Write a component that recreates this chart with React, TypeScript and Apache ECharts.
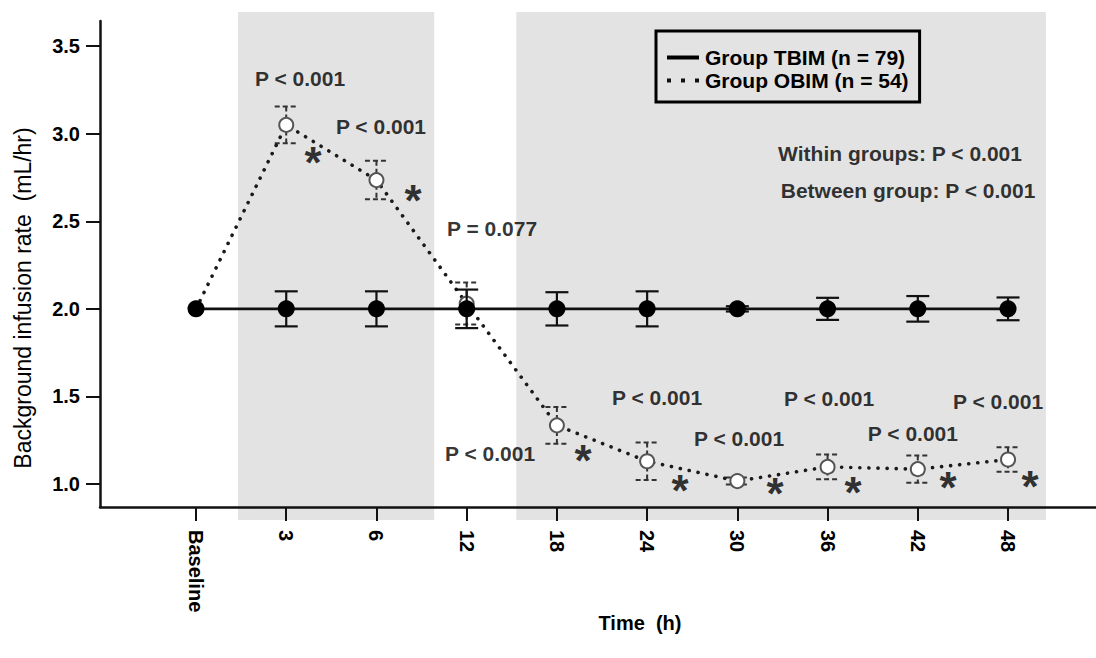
import React, { useEffect, useRef } from 'react';
import * as echarts from 'echarts';

const FONT = '"Liberation Sans", Arial, Helvetica, sans-serif';

// ---- data ----
const categories = ['Baseline', '3', '6', '12', '18', '24', '30', '36', '42', '48'];
const yTicks = [1.0, 1.5, 2.0, 2.5, 3.0, 3.5];

const tbimName = 'Group TBIM (n = 79)';
const obimName = 'Group OBIM (n = 54)';

const tbimMean = [2.0, 2.0, 2.0, 2.0, 2.0, 2.0, 2.0, 2.0, 2.0, 2.0];
const tbimErr = [0, 0.10, 0.10, 0.11, 0.095, 0.10, 0.015, 0.063, 0.073, 0.065];

const obimMean = [2.0, 3.05, 2.735, 2.03, 1.335, 1.13, 1.017, 1.098, 1.085, 1.14];
const obimErr = [0, 0.105, 0.11, 0.12, 0.105, 0.107, 0.02, 0.07, 0.078, 0.07];

// shaded periods, in category-index units
const bandStart = [0.466, 3.55];
const bandEnd = [2.64, 9.42];

// annotations (category-index units, value units)
const pTexts = ['P < 0.001', 'P < 0.001', 'P = 0.077', 'P < 0.001', 'P < 0.001', 'P < 0.001', 'P < 0.001', 'P < 0.001', 'P < 0.001', 'Within groups: P < 0.001', 'Between group: P < 0.001'];
const pX = [1.153, 2.05, 3.281, 3.259, 5.11, 6.019, 7.016, 7.946, 8.889, 7.803, 7.892];
const pY = [3.313, 3.039, 2.457, 1.172, 1.492, 1.258, 1.486, 1.287, 1.469, 2.885, 2.674];

const starX = [1.297, 2.405, 4.289, 5.365, 6.418, 7.282, 8.335, 9.244];
const starY = [2.856, 2.639, 1.155, 0.984, 0.967, 0.973, 1.001, 1.007];

export default function App() {
  const ref = useRef<HTMLDivElement>(null);

  useEffect(() => {
    const chart = echarts.init(ref.current!, null, { renderer: 'svg' });

    const errRender = (stroke: string, width: number, dash: number[] | null) =>
      (params: any, api: any) => {
        const x = api.value(0);
        const lo = api.value(1);
        const hi = api.value(2);
        const t = api.coord([x, hi]);
        const b = api.coord([x, lo]);
        const hw = 11.5;
        const style: any = { stroke, lineWidth: width, fill: 'none' };
        if (dash) style.lineDash = dash;
        return {
          type: 'group',
          children: [
            { type: 'line', shape: { x1: t[0], y1: t[1], x2: b[0], y2: b[1] }, style },
            { type: 'line', shape: { x1: t[0] - hw, y1: t[1], x2: t[0] + hw, y2: t[1] }, style },
            { type: 'line', shape: { x1: b[0] - hw, y1: b[1], x2: b[0] + hw, y2: b[1] }, style },
          ],
        };
      };

    const tbimErrData = categories
      .map((_, i) => [i, tbimMean[i] - tbimErr[i], tbimMean[i] + tbimErr[i]])
      .filter((_, i) => tbimErr[i] > 0);
    const obimErrData = categories
      .map((_, i) => [i, obimMean[i] - obimErr[i], obimMean[i] + obimErr[i]])
      .filter((_, i) => obimErr[i] > 0);

    const option: any = {
      animation: false,
      backgroundColor: '#ffffff',
      textStyle: { fontFamily: FONT },
      grid: { left: 100, right: 0, top: 21, bottom: 151, containLabel: false },
      xAxis: {
        type: 'value',
        min: -1.064,
        max: 9.975,
        z: 3,
        axisLine: { show: true, onZero: false, lineStyle: { color: '#111', width: 2.5 } },
        axisTick: {
          show: true,
          customValues: categories.map((_, i) => i),
          length: 14,
          lineStyle: { color: '#111', width: 2 },
        },
        axisLabel: {
          customValues: categories.map((_, i) => i),
          formatter: (v: number) => categories[Math.round(v)] ?? '',
          rotate: -90,
          margin: 23,
          fontFamily: FONT,
          fontSize: 20,
          fontWeight: 'bold',
          color: '#000',
        },
        splitLine: { show: false },
      },
      yAxis: {
        type: 'value',
        min: 0.869,
        max: 3.643,
        z: 3,
        axisLine: { show: true, onZero: false, lineStyle: { color: '#111', width: 2.5 } },
        axisTick: {
          show: true,
          customValues: yTicks,
          length: 14,
          lineStyle: { color: '#111', width: 2 },
        },
        axisLabel: {
          customValues: yTicks,
          formatter: (v: number) => v.toFixed(1),
          margin: 20,
          fontFamily: FONT,
          fontSize: 20,
          fontWeight: 'bold',
          color: '#000',
        },
        splitLine: { show: false },
      },
      legend: {
        orient: 'vertical',
        left: 656,
        top: 31,
        padding: [16, 11, 11, 11],
        itemGap: 2,
        itemWidth: 32,
        itemHeight: 4,
        borderColor: '#000',
        borderWidth: 3,
        backgroundColor: 'transparent',
        textStyle: { fontFamily: FONT, fontSize: 21, fontWeight: 'bold', color: '#000', padding: [0, 0, 0, 1] },
        data: [
          { name: tbimName, icon: 'path://M0,0h32v4h-32z', itemStyle: { color: '#000', borderWidth: 0 } },
          { name: obimName, icon: 'path://M0,0h4v4h-4z M14,0h4v4h-4z M28,0h4v4h-4z', itemStyle: { color: '#111', borderWidth: 0 } },
        ],
      },
      series: [
        {
          name: obimName + ' error',
          type: 'custom',
          z: 4,
          renderItem: errRender('#333', 2, [5, 3]),
          encode: { x: 0, y: [1, 2] },
          data: obimErrData,
          silent: true,
        },
        {
          name: obimName,
          type: 'line',
          z: 5,
          data: obimMean.map((v, i) => [i, v]),
          symbol: 'emptyCircle',
          symbolSize: 14,
          showSymbol: true,
          lineStyle: { color: '#1a1a1a', width: 3.6, type: [0.1, 9], cap: 'round' },
          itemStyle: { color: '#555', borderColor: '#444', borderWidth: 1.6 },
        },
        {
          name: tbimName + ' error',
          type: 'custom',
          z: 6,
          renderItem: errRender('#111', 2.2, null),
          encode: { x: 0, y: [1, 2] },
          data: tbimErrData,
          silent: true,
        },
        {
          name: tbimName,
          type: 'line',
          z: 7,
          data: tbimMean.map((v, i) => [i, v]),
          symbol: 'circle',
          symbolSize: 17,
          lineStyle: { color: '#111', width: 2.6 },
          itemStyle: { color: '#000' },
        },
        {
          name: 'p-values',
          type: 'scatter',
          z: 8,
          symbolSize: 0,
          silent: true,
          itemStyle: { color: '#000' },
          data: pTexts.map((t, i) => ({ value: [pX[i], pY[i]], name: t })),
          label: {
            show: true,
            position: 'inside',
            formatter: (p: any) => p.name,
            fontFamily: FONT,
            fontSize: 21,
            fontWeight: 'bold',
            color: '#000',
            textBorderWidth: 0,
            textBorderColor: 'transparent',
          },
        },
        {
          name: 'asterisks',
          type: 'scatter',
          z: 8,
          symbolSize: 0,
          silent: true,
          itemStyle: { color: '#000' },
          data: starX.map((x, i) => [x, starY[i]]),
          label: {
            show: true,
            position: 'inside',
            formatter: () => '*',
            offset: [0, 4],
            fontFamily: FONT,
            fontSize: 44,
            fontWeight: 'bold',
            color: '#000',
            textBorderWidth: 0,
            textBorderColor: 'transparent',
          },
        },
      ],
    };

    chart.setOption(option);

    const bands = bandStart.map((s, i) => {
      const p1 = chart.convertToPixel({ gridIndex: 0 }, [s, 2]) as number[];
      const p2 = chart.convertToPixel({ gridIndex: 0 }, [bandEnd[i], 2]) as number[];
      return {
        type: 'rect',
        z: 1,
        silent: true,
        shape: { x: p1[0], y: 12, width: p2[0] - p1[0], height: 508 },
        style: { fill: '#e3e3e3' },
      };
    });

    chart.setOption({
      graphic: [
        ...bands,
        {
          type: 'text',
          z: 10,
          x: 23,
          y: 298,
          rotation: Math.PI / 2,
          style: {
            text: 'Background infusion rate  (mL/hr)',
            fontFamily: FONT,
            fontSize: 23,
            fill: '#000',
            align: 'center',
            verticalAlign: 'middle',
          },
        },
        {
          type: 'text',
          z: 10,
          x: 640,
          y: 623,
          style: {
            text: 'Time  (h)',
            fontFamily: FONT,
            fontSize: 20,
            fontWeight: 'bold',
            fill: '#000',
            align: 'center',
            verticalAlign: 'middle',
          },
        },
      ],
    });

    return () => chart.dispose();
  }, []);

  return <div ref={ref} style={{ position: 'fixed', left: 0, top: 0, width: 1096, height: 658 }} />;
}
